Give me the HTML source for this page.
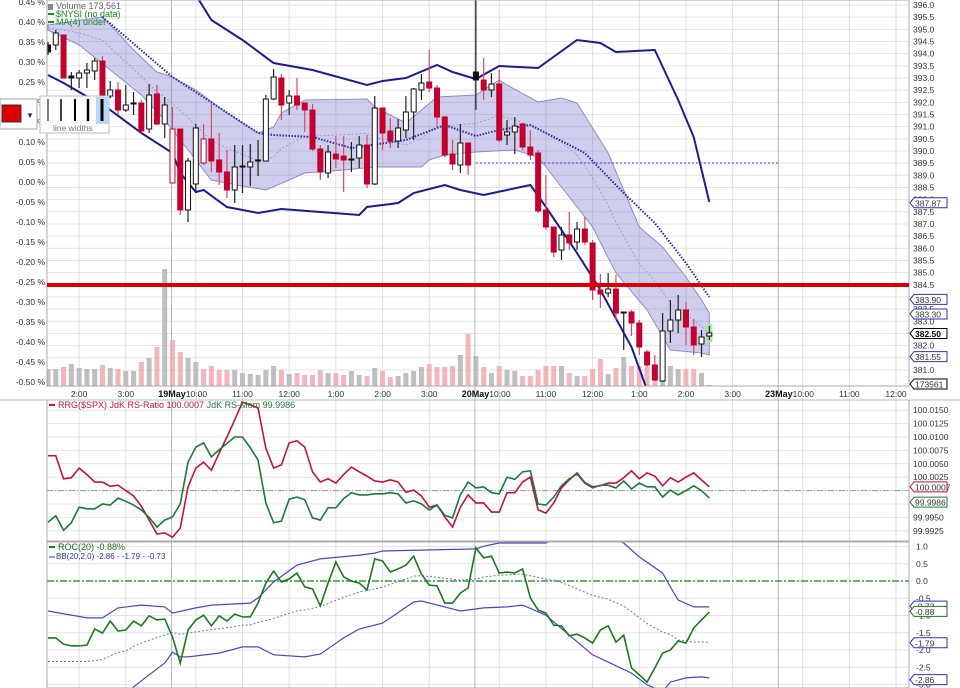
<!DOCTYPE html>
<html><head><meta charset="utf-8">
<style>
html,body{margin:0;padding:0;background:#fff;}
svg{display:block;font-family:"Liberation Sans",sans-serif;}
</style></head>
<body>
<svg id="chart" width="960" height="688" viewBox="0 0 960 688" xmlns="http://www.w3.org/2000/svg">
<rect x="0" y="0" width="960" height="688" fill="#fff"/>
<g id="grid"></g>
<g id="main"></g>
<g id="rrg"></g>
<g id="roc"></g>
<g id="axes"></g>

<g font-size="9">
  <text x="50" y="-1" fill="#2a2aa0">.</text>
  <rect x="48" y="4" width="5" height="6" fill="#888"/>
  <text x="56" y="9" fill="#666">Volume 173,561</text>
  <line x1="48" y1="14" x2="54" y2="14" stroke="#1a8a1a" stroke-width="2"/>
  <text x="56" y="17" fill="#1a8a1a">$NYSI (no data)</text>
  <line x1="48" y1="22" x2="54" y2="22" stroke="#1a8a1a" stroke-width="2"/>
  <text x="56" y="25" fill="#1a8a1a">MA(4) undef</text>
</g>

<g>
  <rect x="0" y="99" width="37" height="30" fill="#fff" stroke="#aaa"/>
  <rect x="2" y="105" width="19" height="17" fill="#dd0000" stroke="#333"/>
  <text x="26" y="118" font-size="8" fill="#333">▼</text>
</g>
<g>
  <rect x="40" y="96" width="69" height="37" fill="#fff" stroke="#bbb"/>
  <line x1="48" y1="99" x2="48" y2="121" stroke="#000" stroke-width="1"/>
  <line x1="61" y1="99" x2="61" y2="121" stroke="#000" stroke-width="1.5"/>
  <line x1="75" y1="99" x2="75" y2="121" stroke="#000" stroke-width="2"/>
  <line x1="88" y1="99" x2="88" y2="121" stroke="#000" stroke-width="2.5"/>
  <rect x="96" y="97" width="13" height="27" fill="#b8d8f8"/>
  <line x1="102" y1="99" x2="102" y2="121" stroke="#000" stroke-width="3"/>
  <text x="53" y="131" font-size="8.5" fill="#777">line widths</text>
</g>

<g font-size="9">
  <line x1="49" y1="405" x2="55" y2="405" stroke="#c0143c" stroke-width="2"/>
  <text x="58" y="408" fill="#c0143c">RRG($SPX) JdK RS-Ratio 100.0007 <tspan fill="#1a7a3a">JdK RS-Mom 99.9986</tspan></text>
</g>
<g font-size="9">
  <line x1="49" y1="547" x2="55" y2="547" stroke="#1a7a1a" stroke-width="2"/>
  <text x="58" y="550" fill="#1a6a1a">ROC(20) -0.88%</text>
  <line x1="49" y1="557" x2="55" y2="557" stroke="#3030b0" stroke-width="1"/>
  <text x="56" y="559" fill="#3030b0" font-size="8">BB(20,2.0) -2.86 - -1.79 - -0.73</text>
</g>

<script>
// ---------- DATA ----------
// OHLC in basis points relative to reference (left % axis: 0.01% = 1 bp)
const opens  = [34.25,34.25,36.75,26.5,26,27.25,27.75,30.25,21.5,23,18,19.5,19.75,13.25,22,14.5,-0.25,13.25,-7,-0.5,4.75,10.75,5.5,2.5,-2,3.75,3.75,5.25,5.25,20.75,26,19.75,21.5,19.75,18,8.25,2.25,7,6.5,5.5,6,9.25,-0.5,18.5,12.75,10.25,13,17.5,23,25,23.5,16.25,7,4.25,9.75,27.5,25.5,23,24.5,11.75,12.5,14.5,8.75,7.25,-7,-11.25,-17,-13.25,-15,-11.75,-15.25,-27,-27.75,-26.75,-32.75,-32.5,-35.25,-42.5,-45.75,-49.75,-37.25,-34.5,-32,-36.25,-40.5,-38.5];
const highs  = [35,38,36.75,27.5,28,29.75,31,31.5,25.25,25,24.25,22.5,20.5,24.5,24.25,21.25,18.75,13.25,6,14.5,14.5,19.5,12.25,8,9.25,9.25,9.5,10.5,21.75,28.25,27,23,26,19.75,19.5,9.25,9.25,11.5,11.5,10,11.5,11.75,21.5,18.5,16,15.75,21.5,23.5,27,33,24.25,16.5,10.5,14.5,9.75,45.5,31,27.25,28,15.5,16.25,14.75,13,8,1.75,-11.25,-11.25,-7.5,-10,-8.75,-14.5,-23,-22.75,-23.25,-32.5,-32,-34.5,-42,-43.25,-32.75,-29.5,-28.25,-30,-34.25,-37,-36];
const lows   = [31.75,33,26,23,23.5,23.5,25.5,21,21,16.75,17.5,16.75,12.25,12.25,14.25,11,-0.25,-8.25,-10,-2.75,4.25,2.5,-0.75,-4,-5.25,-2.75,-1,1.5,5.25,20.5,15.5,16.75,18,12.5,7.75,0.5,1,3.5,-2.5,2.5,3.5,-1.5,-0.75,8,8.5,8.5,11,10.5,20.5,22.5,13.75,6.25,3,2.25,1.75,18,20.5,21.25,10,9.25,7,8,5.5,-7.75,-12,-18.75,-19.5,-17,-17,-15.75,-29.5,-31.5,-28.75,-34.5,-42,-38.5,-43.25,-46.25,-49.75,-50,-40.25,-37.75,-40.75,-43.25,-43.75,-39.5];
const closes = [32.5,37.25,26,26,27.25,28,30.25,21,23,18,19.25,19.75,12.75,21.75,14.5,19.25,13.25,-7,5.25,13.5,10.75,5.25,2.5,-2,3.75,4,5,5.5,20.75,26.25,19.25,21.5,19.25,18,8.25,2.5,7.5,5.75,5.5,5.75,9.25,-0.5,18.5,12.25,10.25,13.5,17.5,23.25,24.75,23.5,16.25,6.75,4.5,9.75,4.25,25.5,23,24.5,10.5,12.5,14,8.75,6.75,-7.25,-11.25,-17.5,-13.25,-15.25,-11.75,-15,-27,-28,-26.75,-32.75,-32.5,-35.25,-41.25,-45.75,-49.5,-37.25,-34.5,-32,-36.25,-40.75,-38.75,-37.75];
// volume, thousands of shares
const volumes = [85,85,95,110,90,85,85,105,90,85,75,75,120,140,195,585,230,170,140,120,85,100,80,80,80,65,60,55,80,100,80,60,65,55,55,80,65,65,55,75,55,50,90,75,45,50,65,75,95,110,95,95,100,155,260,150,95,65,100,80,75,50,50,80,100,100,100,65,50,50,85,135,60,90,145,100,100,95,100,60,100,85,85,85,65,5];
// Bollinger band (shaded) upper/lower, bp, at bar indices
const bandUpIdx = [0,7,9,11,14,16,19,23,27,29,30,33,41,42,46,48,50,55,58,59,63,66,68,72,76,79,82,84,85];
const bandUp    = [39.25,41.25,37.25,33,27.5,26.25,23,17.25,12.25,13.75,17.25,20.5,20.75,18.75,14.75,18,21.25,21.75,25.5,24.25,20,21,19.75,7.25,-11.25,-16.25,-23.75,-29.5,-32.75];
const bandLoIdx = [0,4,8,12,15,19,21,25,28,31,33,38,42,48,49,51,55,60,63,66,70,73,77,80,84,85];
const bandLo    = [38,34.25,28,21.75,15.5,5.5,0.5,-1,-2,0.5,2.25,3,3.75,3.75,5.5,6.75,7.5,8,6.25,-1.25,-11.25,-22.75,-32,-42,-42.75,-43.25];
// dark blue dotted moving average, bp
const maIdx = [7,16,27,29,34,39,46,51,55,58,62,69,74,78,82,85];
const maVal = [41.25,26.25,12.25,11.75,11.25,8.5,10.5,14.25,11.5,13,14.25,7.25,-2.75,-10.25,-20.25,-28.75];
// outer channel (solid navy), bp
const chUpIdx = [19,21,25,29,34,41,43,46,50,52,55,58,63,68,71,73,78,81,83,85];
const chUp    = [46.75,40.5,35.5,29.75,28,24.25,25.25,26,29.25,27.5,25.75,29,28.5,35.5,34.75,32.5,33,20.5,11.25,-5];
const chLoIdx = [0,2,8,12,16,17,19,20,23,27,30,35,40,41,45,47,51,53,56,59,62,64,68,71,75,77];
const chLo    = [26.75,24.75,18,12.25,7.25,2.25,-2.5,-2,-6.25,-7.75,-6.75,-7.5,-8.25,-6.25,-5.25,-2.75,-0.75,-2,-3.25,-2,-0.75,-6.25,-17.75,-27,-41.25,-52];
const supportBp = -25.75;   // red horizontal line (384.5)
const refBp = 4.75;         // dashed blue reference
// right price axis
const priceTicks = [396,395.5,395,394.5,394,393.5,393,392.5,392,391.5,391,390.5,390,389.5,389,388.5,388,387.5,387,386.5,386,385.5,385,384.5,384,383.5,383,382.5,382,381.5,381];
const pctTicks = [0.45,0.40,0.35,0.30,0.25,0.20,0.15,0.10,0.05,0.00,-0.05,-0.10,-0.15,-0.20,-0.25,-0.30,-0.35,-0.40,-0.45,-0.50];
const priceTags = [387.87,383.90,383.30,382.50,381.55];
// time axis (bar index, label)
const timeIdx = [4,10,19,25,31,37,43,49,58,64,70,76,82,88,97,103,109];
const timeLbl = ["2:00","3:00","10:00","11:00","12:00","1:00","2:00","3:00","10:00","11:00","12:00","1:00","2:00","3:00","10:00","11:00","12:00"];
const dayIdx = [16,55,94];
const dayLbl = ["19May","20May","23May"];
// RRG
const rsRatio = [100.0065,100.0065,100.0022,100.0024,100.0042,100.0030,100.0016,100.0016,100.0008,100.0010,100.0000,99.9990,99.9971,99.9945,99.9919,99.9921,99.9913,99.9930,100.0007,100.0042,100.0053,100.0038,100.0070,100.0100,100.0132,100.0165,100.0160,100.0154,100.0079,100.0042,100.0048,100.0089,100.0093,100.0081,100.0035,100.0016,100.0022,100.0014,100.0030,100.0044,100.0035,100.0027,100.0018,100.0016,100.0020,100.0016,99.9997,100.0001,99.9990,99.9969,99.9973,99.9951,99.9932,99.9969,99.9992,99.9977,99.9977,99.9960,99.9960,99.9996,99.9996,100.0016,100.0025,99.9964,99.9958,99.9977,100.0005,100.0020,100.0033,100.0015,100.0007,100.0009,100.0014,100.0014,100.0024,100.0037,100.0022,100.0033,100.0027,100.0009,100.0024,100.0016,100.0025,100.0033,100.0020,100.0007];
const rsMom = [99.9941,99.9953,99.9926,99.9940,99.9969,99.9966,99.9966,99.9975,99.9973,99.9986,99.9980,99.9973,99.9964,99.9950,99.9932,99.9945,99.9951,99.9975,100.0053,100.0081,100.0089,100.0063,100.0076,100.0088,100.0100,100.0100,100.0080,100.0057,99.9977,99.9940,99.9943,99.9984,99.9988,99.9983,99.9949,99.9945,99.9968,99.9968,99.9985,99.9996,99.9992,99.9992,99.9994,99.9994,99.9996,99.9994,99.9977,99.9981,99.9975,99.9964,99.9973,99.9954,99.9949,99.9992,100.0016,100.0005,100.0007,99.9996,99.9994,100.0025,100.0021,100.0035,100.0037,99.9975,99.9973,99.9988,100.0009,100.0022,100.0031,100.0014,100.0005,100.0010,100.0010,100.0005,100.0018,100.0003,100.0014,100.0007,100.0007,99.9988,100.0001,99.9992,100.0000,100.0009,100.0000,99.9986];
const rrgTicks = [100.0150,100.0125,100.0100,100.0075,100.0050,100.0025,100.0000,99.9975,99.9950,99.9925];
// ROC
const rocVal = [-1.65,-1.65,-1.83,-1.88,-1.88,-1.86,-1.39,-1.51,-1.16,-1.45,-1.42,-1.16,-1.30,-1.01,-1.13,-1.10,-1.62,-2.38,-1.42,-1.13,-0.99,-1.30,-1.01,-1.16,-0.96,-1.04,-1.04,-0.64,-0.06,0.29,-0.03,0.06,0.23,-0.17,-0.23,-0.72,-0.06,0.55,0.12,0,-0.06,-0.26,0.64,0.58,0.26,0.35,0.46,0.72,0.2,-0.12,-0.14,-0.64,-0.64,-0.35,-0.20,0.96,0.67,0.72,0.23,0.26,0.23,0.35,-0.49,-0.84,-0.93,-1.28,-1.30,-1.59,-1.54,-1.65,-1.80,-1.42,-1.30,-1.77,-1.57,-2.52,-2.72,-2.93,-2.52,-2.09,-2.00,-1.74,-1.80,-1.36,-1.13,-0.90];
const rocUpIdx = [0,5,7,9,12,15,16,19,21,26,27,29,32,35,40,42,43,55,56,58,64,66,72,74,76,79,80,81,83,85];
const rocUp    = [-0.87,-1.07,-1.07,-0.78,-0.70,-0.75,-0.93,-0.78,-0.70,-0.64,-0.49,-0.03,0.46,0.64,0.75,0.81,0.87,0.93,1.01,1.10,1.10,1.30,1.30,1.10,0.70,0.23,-0.17,-0.55,-0.75,-0.75];
const rocLoIdx = [0,5,10,11,13,15,16,17,18,22,25,27,29,33,35,38,40,43,44,47,48,51,53,56,59,61,64,67,70,72,75,77,79,80,82,84,85];
const rocLo    = [-3.8,-3.6,-3.3,-3.07,-2.72,-2.38,-2.06,-2.20,-2.20,-2.09,-1.91,-1.91,-2.14,-2.20,-2.12,-1.65,-1.39,-1.22,-1.07,-0.61,-0.58,-0.75,-0.87,-0.78,-0.75,-0.70,-0.99,-1.57,-2.14,-2.35,-2.67,-3.01,-3.2,-2.93,-2.81,-2.78,-2.81];
const rocTicks = [1.0,0.5,0.0,-0.5,-1.0,-1.5,-2.0,-2.5,-3.0];
const rocTags = [-0.73,-0.88,-1.79,-2.86];

// ---------- SCALES ----------
const NS = "http://www.w3.org/2000/svg";
const L = 47, R = 909;
const xB = i => 48 + i * 7.78;
const yP = bp => 182 - bp * 4;                 // main panel (bp)
const yPrice = p => 5 + (396 - p) * 24.33;     // right price axis
const yV = v => 386 - v / 5;                   // volume
const yR = v => 490.6 - (v - 100) / 0.0025 * 13.4;
const yC = v => 581 - v * 34.5;

function el(tag, attrs, parent) {
  const e = document.createElementNS(NS, tag);
  for (const k in attrs) e.setAttribute(k, attrs[k]);
  parent.appendChild(e);
  return e;
}
function txt(x, y, s, attrs, parent) {
  const t = el("text", Object.assign({ x: x, y: y }, attrs), parent);
  t.textContent = s;
  return t;
}
function interp(idx, vals, i) {
  if (i <= idx[0]) return vals[0];
  for (let k = 1; k < idx.length; k++) {
    if (i <= idx[k]) { const f = (i - idx[k-1]) / (idx[k] - idx[k-1]); return vals[k-1] + f * (vals[k] - vals[k-1]); }
  }
  return vals[vals.length - 1];
}
function pts(idx, vals, yf) { return idx.map((i, k) => xB(i).toFixed(1) + "," + yf(vals[k]).toFixed(1)).join(" "); }

const grid = document.getElementById("grid");
const main = document.getElementById("main");
const rrg = document.getElementById("rrg");
const roc = document.getElementById("roc");
const axes = document.getElementById("axes");

// clip paths
const defs = el("defs", {}, document.getElementById("chart"));
const c1 = el("clipPath", { id: "clipMain" }, defs); el("rect", { x: L, y: 0, width: R - L, height: 386 }, c1);
const c2 = el("clipPath", { id: "clipRrg" }, defs); el("rect", { x: L, y: 400, width: R - L, height: 141 }, c2);
const c3 = el("clipPath", { id: "clipRoc" }, defs); el("rect", { x: L, y: 542, width: R - L, height: 146 }, c3);
main.setAttribute("clip-path", "url(#clipMain)");
rrg.setAttribute("clip-path", "url(#clipRrg)");
roc.setAttribute("clip-path", "url(#clipRoc)");

// ---------- GRID ----------
priceTicks.forEach(p => {
  const g = el("line", { x1: L, x2: R, y1: yPrice(p), y2: yPrice(p), stroke: "#e4e4e4", "stroke-width": 1 }, grid);
  
  
});
rrgTicks.forEach(v => { el("line", { x1: L, x2: R, y1: yR(v), y2: yR(v), stroke: "#e4e4e4" }, grid); });
rocTicks.forEach(v => { el("line", { x1: L, x2: R, y1: yC(v), y2: yC(v), stroke: "#e4e4e4" }, grid); });
timeIdx.forEach(i => { el("line", { x1: xB(i), x2: xB(i), y1: 0, y2: 688, stroke: "#e0e0e0" }, grid); });
dayIdx.forEach(i => { el("line", { x1: xB(i) - 1, x2: xB(i) - 1, y1: 0, y2: 688, stroke: "#b8b8b8" }, grid); });

// ---------- MAIN PANEL ----------
// volume
volumes.forEach((v, i) => {
  const down = i > 0 && closes[i] < closes[i-1];
  const b = el("rect", { x: xB(i) - 2.5, y: yV(v), width: 5, height: 386 - yV(v), fill: down ? "#f2a8b2" : "#b4b4b4", opacity: 0.85 }, main);
  
  
});
// shaded band
const bandPts = bandUpIdx.map((i, k) => xB(i) + "," + yP(bandUp[k])).concat(bandLoIdx.slice().reverse().map((i, k) => xB(i) + "," + yP(bandLo[bandLo.length - 1 - k])));
const band = el("polygon", { points: bandPts.join(" "), fill: "rgba(110,110,200,0.33)", stroke: "#8c8cd0", "stroke-width": 1 }, main);


// middle faint line
let mid = [];
for (let i = 0; i <= 85; i++) mid.push(xB(i) + "," + yP((interp(bandUpIdx, bandUp, i) + interp(bandLoIdx, bandLo, i)) / 2));
const midL = el("polyline", { points: mid.join(" "), fill: "none", stroke: "#9a9ad8", "stroke-width": 1, "stroke-dasharray": "2,2" }, main);


// outer channel
const chU = el("polyline", { points: pts(chUpIdx, chUp, yP), fill: "none", stroke: "#1c1c90", "stroke-width": 2 }, main);


const chL = el("polyline", { points: pts(chLoIdx, chLo, yP), fill: "none", stroke: "#1c1c90", "stroke-width": 2 }, main);


// dotted MA
const ma = el("polyline", { points: pts(maIdx, maVal, yP), fill: "none", stroke: "#2a2aa8", "stroke-width": 2, "stroke-dasharray": "1.5,1.5" }, main);


// ref dashed line
const rl = el("line", { x1: xB(55), x2: 780, y1: yP(refBp), y2: yP(refBp), stroke: "#4040d0", "stroke-dasharray": "2,2" }, main);


// last bar highlight
el("rect", { x: xB(85) - 3, y: yP(highs[85]) - 2, width: 6, height: yP(lows[85]) - yP(highs[85]) + 4, fill: "#a8e8a0" }, main);
// candles
closes.forEach((c, i) => {
  const o = opens[i];
  const red = i > 0 && c < closes[i-1];
  const col = red ? "#c4002e" : "#111";
  const wick = red ? "#d84866" : "#222";
  const g = el("g", {}, main);
  
  
  el("line", { x1: xB(i), x2: xB(i), y1: yP(highs[i]), y2: yP(lows[i]), stroke: wick, "stroke-width": 1.2 }, g);
  const top = yP(Math.max(o, c)), bot = yP(Math.min(o, c));
  const hollow = c >= o;
  el("rect", { x: xB(i) - 2.5, y: top, width: 5, height: Math.max(1, bot - top), fill: hollow ? "#fff" : col, stroke: col, "stroke-width": 1 }, g);
});
// red support line
const sl = el("line", { x1: L, x2: R, y1: yP(supportBp), y2: yP(supportBp), stroke: "#dd0000", "stroke-width": 4 }, document.getElementById("chart"));



// ---------- RRG ----------
const zl = el("line", { x1: L, x2: R, y1: yR(100), y2: yR(100), stroke: "#999", "stroke-dasharray": "6,2,1,2" }, rrg);


const rp = el("polyline", { points: rsRatio.map((v, i) => xB(i) + "," + yR(v)).join(" "), fill: "none", stroke: "#c0143c", "stroke-width": 1.6 }, rrg);


const mp = el("polyline", { points: rsMom.map((v, i) => xB(i) + "," + yR(v)).join(" "), fill: "none", stroke: "#1a7a3a", "stroke-width": 1.6 }, rrg);



// ---------- ROC ----------
const z0 = el("line", { x1: L, x2: R, y1: yC(0), y2: yC(0), stroke: "#3a9a3a", "stroke-width": 1.5, "stroke-dasharray": "7,2,2,2" }, roc);


const ru = el("polyline", { points: pts(rocUpIdx, rocUp, yC), fill: "none", stroke: "#4848c0", "stroke-width": 1.2 }, roc);


const rlo = el("polyline", { points: pts(rocLoIdx, rocLo, yC), fill: "none", stroke: "#4848c0", "stroke-width": 1.2 }, roc);


let rm = [];
for (let i = 0; i <= 85; i++) rm.push(xB(i) + "," + yC((interp(rocUpIdx, rocUp, i) + interp(rocLoIdx, rocLo, i)) / 2));
const rmid = el("polyline", { points: rm.join(" "), fill: "none", stroke: "#7070d0", "stroke-width": 1, "stroke-dasharray": "2,2" }, roc);


const rc = el("polyline", { points: rocVal.map((v, i) => xB(i) + "," + yC(v)).join(" "), fill: "none", stroke: "#1a7a1a", "stroke-width": 1.6 }, roc);



// ---------- AXES / FRAMES ----------
[[0,386],[400,541],[542,688]].forEach(([a, b]) => {
  el("rect", { x: L, y: a, width: R - L, height: b - a, fill: "none", stroke: "#aaa" }, axes);
});
el("line", { x1: 0, x2: 960, y1: 400, y2: 400, stroke: "#bbb" }, axes);
// left pct labels
pctTicks.forEach(p => {
  const t = txt(45, yP(p * 100) + 3, p.toFixed(2) + " %", { "font-size": 8.5, fill: "#333", "text-anchor": "end" }, axes);
  
  
});
// right price labels
priceTicks.forEach(p => {
  const t = txt(913, yPrice(p) + 3, p.toFixed(1), { "font-size": 8.5, fill: "#333" }, axes);
  
  
});
function tag(y, s, col, bold, bg) {
  const g = el("g", {}, axes);
  
  
  el("path", { d: "M910," + y + " l4,-5 h33 v10 h-33 z", fill: "#fff", stroke: col, "stroke-width": 1 }, g);
  txt(915, y + 3.5, s, { "font-size": 8.5, fill: bold ? "#000" : "#333", "font-weight": bold ? "bold" : "normal" }, g);
}
priceTags.forEach((p, k) => tag(yPrice(p), p.toFixed(2), k === 3 ? "#000" : "#3030c0", k === 3));
tag(384, "173561", "#000", false);
// time labels
timeIdx.forEach((i, k) => {
  const t = txt(xB(i), 397, timeLbl[k], { "font-size": 8.5, fill: "#333", "text-anchor": i === 19 || i === 58 || i === 97 ? "start" : "middle" }, axes);
  if (i === 19 || i === 58 || i === 97) t.setAttribute("x", xB(i) - 10);
  
  
});
dayIdx.forEach((i, k) => {
  const t = txt(xB(i + 3) - 10, 397, dayLbl[k], { "font-size": 9, fill: "#111", "font-weight": "bold", "text-anchor": "end" }, axes);
  
  
});
// rrg labels
rrgTicks.forEach(v => {
  if (v === 100) return;
  const t = txt(913, yR(v) + 3, v.toFixed(4), { "font-size": 8.5, fill: "#333" }, axes);
  
  
});
tag(yR(rsRatio[85]), rsRatio[85].toFixed(4), "#c0143c", false);
tag(yR(rsMom[85]) + 4, rsMom[85].toFixed(4), "#1a7a3a", false);
// roc labels
rocTicks.forEach(v => {
  const t = txt(916, yC(v) + 3, v.toFixed(1), { "font-size": 8.5, fill: "#333" }, axes);
  
  
});
rocTags.forEach((v, k) => tag(yC(v), v.toFixed(2), k === 1 ? "#1a7a1a" : "#3030c0", false));
</script>
</svg>
</body></html>
